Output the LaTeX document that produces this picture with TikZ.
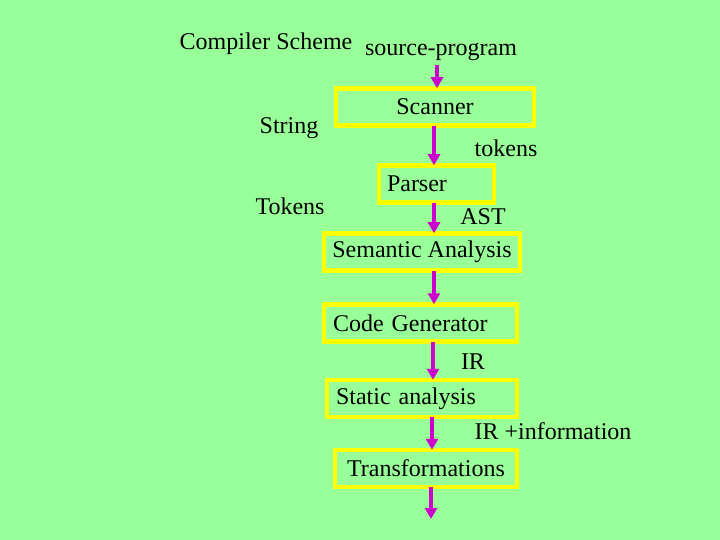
\documentclass[tikz,border=0pt]{standalone}
\usepackage{fontspec}
\setmainfont{Liberation Serif}
\usetikzlibrary{arrows.meta, positioning, calc}
\definecolor{cBack}{RGB}{153,255,153}
\definecolor{cFrame}{RGB}{255,255,0}
\definecolor{cArrow}{RGB}{204,0,204}
\tikzset{
	stage/.style    ={rectangle, draw=cFrame, line width=4.5pt, minimum height=37pt, inner xsep=8pt, inner ysep=0pt},
	lbl/.style      ={inner sep=1pt},
	flowarrow/.style={-{Triangle[length=11pt, width=12pt]}, line width=3.5pt, draw=cArrow},
}
\begin{document}
\begin{tikzpicture}[x=1pt, y=-1pt, font=\fontsize{24}{28}\selectfont]
	\fill[cBack] (0,0) rectangle (720,540);
	\useasboundingbox (0,0) rectangle (720,540);
	\coordinate (spine) at (434,0);
	% side labels
	\node[lbl] (title) at (266,44) {Compiler Scheme};
	\node[lbl] (string) at (289,128) {String};
	\node[lbl] (tokl) at (290,206) {Tokens};
	% stages
	\node[lbl] (src) at (441,52) {source-program};
	\node[stage, minimum width=198pt] (scan) at (435,107) {Scanner};
	\node[stage, text width=99pt, align=left] (parse) at (436.5,184) {Parser};
	\node[stage, minimum width=196pt] (sema) at (422,252) {Semantic Analysis};
	\node[stage, text width=175pt, align=left, inner xsep=9pt] (cgen) at (420.5,323) {Code Generator};
	\node[stage, text width=172pt, align=left, inner xsep=9pt] (stat) at (422,398.5) {Static analysis};
	\node[stage, minimum width=182pt] (trans) at (426,468.5) {Transformations};
	\coordinate (out) at (431,519);
	% flow labels
	\node[lbl] (ltok) at (506,148) {tokens};
	\node[lbl] (last) at (483,217) {AST};
	\node[lbl] (lir) at (473,362) {IR};
	\node[lbl] (linfo) at (553,431) {IR +information};
	% arrows
	\draw[flowarrow] ([yshift=-3pt]src.south -| 437,0) -- ([yshift=-2pt]scan.north -| 437,0);
	\draw[flowarrow] ([yshift=2pt]scan.south -| spine) -- ([yshift=-2pt]parse.north -| spine);
	\draw[flowarrow] ([yshift=2pt]parse.south -| spine) -- ([yshift=-2pt]sema.north -| spine);
	\draw[flowarrow] ([yshift=2pt]sema.south -| spine) -- ([yshift=-2pt]cgen.north -| spine);
	\draw[flowarrow] ([yshift=2pt]cgen.south -| 433,0) -- ([yshift=-2pt]stat.north -| 433,0);
	\draw[flowarrow] ([yshift=2pt]stat.south -| 432,0) -- ([yshift=-2pt]trans.north -| 432,0);
	\draw[flowarrow] ([yshift=2pt]trans.south -| out) -- (out);
\end{tikzpicture}
\end{document}
